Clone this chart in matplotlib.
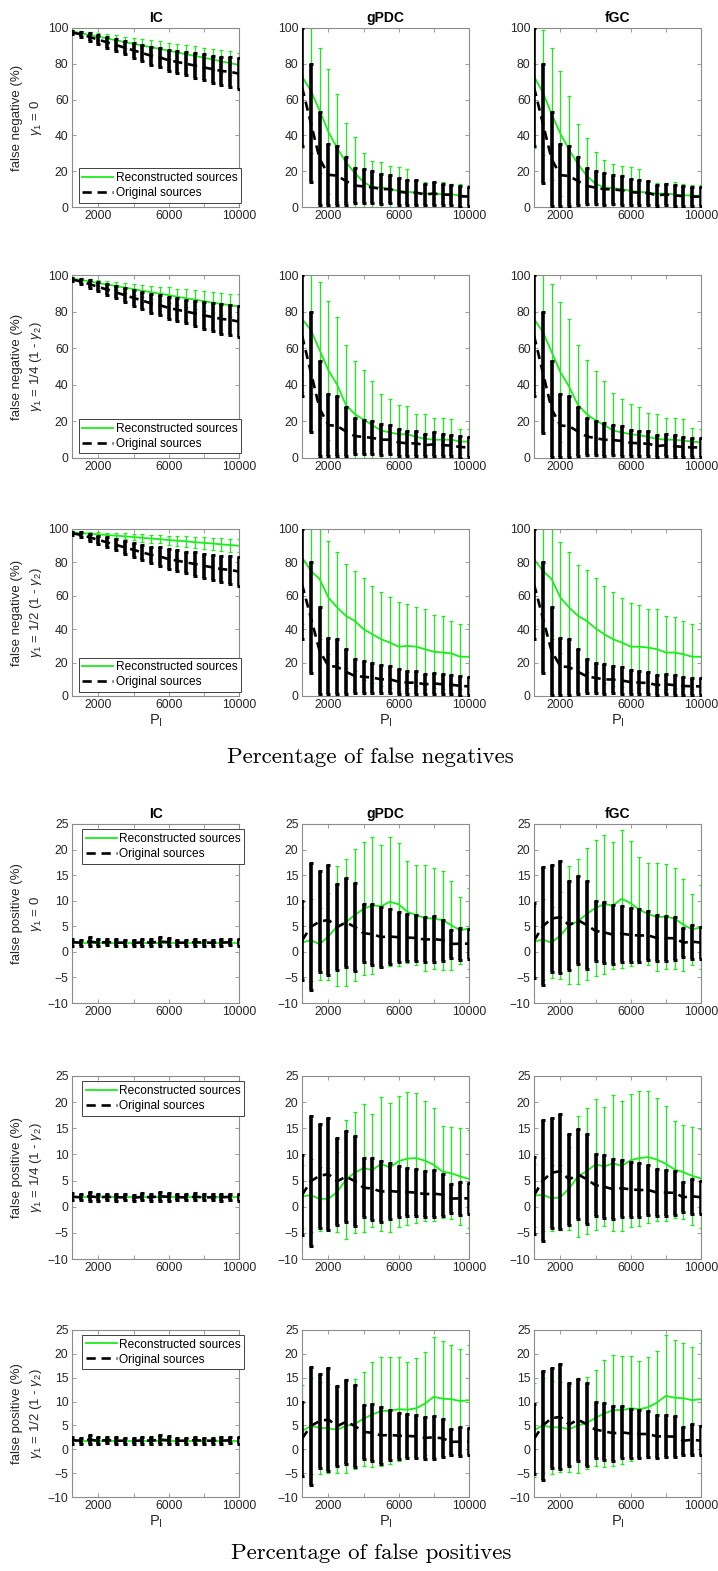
import matplotlib
matplotlib.use("Agg")
import matplotlib.pyplot as plt

plt.rcParams['font.family'] = ['Liberation Sans', 'DejaVu Sans']
plt.rcParams['mathtext.fontset'] = 'custom'
plt.rcParams['mathtext.rm'] = 'Liberation Sans'
plt.rcParams['mathtext.it'] = 'Liberation Sans:italic'

# number of points P_I
p_points = [500, 1000, 1500, 2000, 2500, 3000, 3500, 4000, 4500, 5000,
            5500, 6000, 6500, 7000, 7500, 8000, 8500, 9000, 9500, 10000]

methods = ['IC', 'gPDC', 'fGC']
gamma_labels = [r'$\gamma_1$ = 0',
                r'$\gamma_1$ = 1/4 (1 - $\gamma_2$)',
                r'$\gamma_1$ = 1/2 (1 - $\gamma_2$)']

# ---------------- false negatives ----------------
# original sources (do not depend on gamma)
fn_ic_orig_mean = [97.5, 96.5, 95, 93.5, 92, 90.5, 89, 87.5, 86, 84.5, 83.5, 82, 81, 80, 79, 78, 77, 76, 75.5, 74.5]
fn_ic_orig_std = [1, 1.5, 2, 2.5, 3, 3.3, 3.8, 4.2, 4.6, 5, 5.5, 5.8, 6.2, 6.5, 7, 7.3, 7.6, 8, 8.3, 8.6]
fn_gpdc_orig_mean = [67, 47, 27, 18, 17.5, 14.5, 12, 11.5, 11, 10, 10, 8.5, 8, 8, 7, 7.5, 7, 6.8, 6, 5.8]
fn_gpdc_orig_std = [33, 33, 26, 17, 16.5, 13.5, 10, 9.5, 9, 8.5, 8, 7.5, 7, 7, 6, 6.5, 6, 5.7, 6, 5.5]
fn_fgc_orig_mean = [67, 46.8, 26.8, 17.8, 17.3, 14.5, 11.8, 10.8, 10, 9.8, 9.3, 8.3, 8, 7.8, 6.5, 7, 6.5, 6, 5.8, 5.8]
fn_fgc_orig_std = [33, 33.2, 26.2, 17.2, 16.7, 13.5, 10.2, 9.2, 9, 8.2, 8.2, 7.2, 7, 6.7, 6, 6, 6, 5.5, 5.2, 5.2]

# reconstructed sources, gamma1 = 0
fn_ic_rec1_mean = [98, 97.2, 96.1, 95.2, 94.1, 93.2, 92.1, 91.2, 90.2, 89.3, 88.3, 87.3, 86.4, 85.3, 84.4, 83.4, 82.5, 81.3, 80.4, 79.3]
fn_ic_rec1_std = [0.8, 1.2, 1.6, 2, 2.4, 2.7, 3, 3.3, 3.6, 3.9, 4.2, 4.5, 4.8, 5.1, 5.4, 5.7, 6, 6.2, 6.5, 6.8]
fn_gpdc_rec1_mean = [73, 65, 54, 42, 33, 25, 19, 14, 11, 11, 10, 9, 8.5, 8, 7.5, 7.5, 7, 7, 6.5, 6]
fn_gpdc_rec1_std = [40, 35, 35, 35, 30, 22, 20, 16, 14.5, 14, 13, 13.5, 12.5, 7, 6.5, 6.5, 7, 6, 6.5, 6.5]
fn_fgc_rec1_mean = [73, 64, 52, 41, 32, 24, 17.5, 13, 11, 10.5, 10, 9, 8.5, 8, 7.5, 7.5, 7, 6.5, 6.5, 6]
fn_fgc_rec1_std = [40, 35, 37, 35, 30, 22.5, 21, 18, 15, 13.5, 13, 13.5, 12.5, 6.5, 6, 6, 7, 6.5, 6, 6.5]

# reconstructed sources, gamma1 = 1/4 (1 - gamma2)
fn_ic_rec2_mean = [98, 97.3, 96.5, 95.6, 94.8, 94, 93.1, 92.3, 91.4, 90.6, 89.8, 89, 88.1, 87.3, 86.5, 85.7, 84.9, 84.2, 83.5, 82.8]
fn_ic_rec2_std = [0.8, 1.1, 1.5, 1.8, 2.1, 2.4, 2.7, 3, 3.3, 3.6, 3.9, 4.2, 4.5, 4.8, 5.1, 5.4, 5.7, 6, 6.3, 6.6]
fn_gpdc_rec2_mean = [76, 70, 59, 48, 40, 29, 24, 21, 18, 15, 14, 13, 13, 11.5, 10.5, 10, 10, 10, 9, 9]
fn_gpdc_rec2_std = [40, 35, 37, 38, 37, 33, 29, 27, 24, 20, 18, 16, 15.5, 12.5, 13.5, 12, 12, 11.5, 7, 7]
fn_fgc_rec2_mean = [76, 69, 58, 47, 39, 29, 24, 20.5, 18, 15, 14, 13, 12.5, 11.5, 10.5, 10, 10, 9.5, 9, 8.5]
fn_fgc_rec2_std = [40, 35, 37, 38, 37, 33, 29.5, 27, 24, 20.5, 18, 16.5, 15.5, 13, 13.5, 12, 12, 12, 7.5, 7.5]

# reconstructed sources, gamma1 = 1/2 (1 - gamma2)
fn_ic_rec3_mean = [98, 97.6, 97.2, 96.8, 96.4, 96, 95.6, 95.2, 94.7, 94.3, 93.9, 93.4, 93, 92.6, 92.1, 91.7, 91.3, 90.8, 90.4, 90]
fn_ic_rec3_std = [0.6, 0.8, 1, 1.2, 1.4, 1.6, 1.8, 2, 2.2, 2.4, 2.5, 2.7, 2.9, 3.1, 3.2, 3.4, 3.6, 3.8, 3.9, 4]
fn_gpdc_rec3_mean = [83, 75, 70, 59, 53, 48, 45, 40, 37, 34, 32, 29.5, 30, 29.5, 28, 26.5, 26, 25.5, 23.5, 23.5]
fn_gpdc_rec3_std = [40, 38, 36, 34, 33, 31, 30, 30.5, 29, 28, 27, 26.5, 25, 23.5, 24, 22, 22, 19.5, 19.5, 19.5]
fn_fgc_rec3_mean = [82, 75, 70, 59, 53, 48, 45, 40.5, 37, 34, 32, 29.5, 29.5, 29, 28, 26, 26, 25, 23.5, 23.5]
fn_fgc_rec3_std = [40, 38, 36, 33, 33, 30.5, 30.5, 30, 29, 28, 26.5, 26, 25, 23, 24, 22, 21.5, 20, 19.5, 20]

# ---------------- false positives ----------------
fp_ic_orig_mean = [1.9, 1.8, 2.0, 1.8, 1.9, 1.8, 1.8, 1.7, 1.9, 1.8, 2.0, 1.9, 1.8, 1.8, 1.9, 1.8, 1.8, 1.8, 1.9, 1.8]
fp_ic_orig_std = [0.7, 0.6, 0.9, 0.7, 0.6, 0.7, 0.6, 0.6, 0.7, 0.7, 0.9, 0.8, 0.6, 0.6, 0.7, 0.6, 0.6, 0.7, 0.6, 0.7]
fp_gpdc_orig_mean = [2.2, 4.9, 5.9, 6.25, 4.85, 5.75, 4.9, 3.65, 3.45, 2.9, 3.0, 2.85, 2.8, 2.7, 2.4, 2.5, 2.3, 1.55, 1.6, 1.6]
fp_gpdc_orig_std = [7.7, 12.4, 9.9, 10.75, 8.35, 8.75, 8.6, 5.65, 5.95, 5.9, 5.3, 4.85, 4.6, 4.5, 4.4, 4.5, 4.0, 2.75, 3.1, 2.9]
fp_fgc_orig_mean = [2.15, 5, 6.5, 6.8, 5.2, 6.2, 5.25, 4.1, 3.8, 3.35, 3.55, 3.3, 3.2, 3.2, 2.7, 2.7, 2.65, 1.8, 2, 1.8]
fp_fgc_orig_std = [7.35, 11.5, 10.5, 11, 8.7, 8.6, 8.65, 5.9, 6, 5.75, 5.45, 5.2, 5.1, 4.8, 4.5, 4.4, 4.25, 2.9, 3.3, 3.1]

fp_ic_rec1_mean = [1.8, 1.8, 1.8, 1.8, 1.8, 1.8, 1.8, 1.8, 1.8, 1.8, 1.8, 1.8, 1.8, 1.8, 1.8, 1.8, 1.8, 1.8, 1.8, 1.8]
fp_ic_rec1_std = [0.5, 0.5, 0.5, 0.5, 0.5, 0.5, 0.5, 0.5, 0.5, 0.5, 0.5, 0.5, 0.5, 0.5, 0.5, 0.5, 0.5, 0.5, 0.5, 0.5]
fp_gpdc_rec1_mean = [1.8, 2.3, 1.5, 3.0, 5.0, 5.8, 7.2, 8.4, 9.1, 8.9, 9.8, 9.3, 7.8, 7.2, 6.6, 6.5, 6.2, 5.2, 4.2, 4.6]
fp_gpdc_rec1_std = [7, 8, 7, 8.5, 11.7, 12.4, 12.9, 13, 13.4, 11.9, 12.6, 12, 10, 9.8, 10.3, 9.9, 9.7, 8.7, 6.6, 7.9]
fp_fgc_rec1_mean = [2, 2.4, 1.8, 3.2, 5.2, 6, 7.4, 8.6, 9.3, 9.1, 10.4, 9.5, 8.2, 7.4, 6.8, 6.9, 6.5, 5.3, 4.4, 4.8]
fp_fgc_rec1_std = [7, 8, 7, 8.5, 11.5, 12.2, 13, 13.3, 13.6, 12.4, 13.5, 12.2, 10.3, 10, 10.6, 10.2, 9.8, 9, 7, 8.2]

fp_ic_rec2_mean = [1.8, 1.8, 1.8, 1.8, 1.8, 1.8, 1.8, 1.8, 1.8, 1.8, 1.8, 1.8, 1.8, 1.8, 1.8, 1.8, 1.8, 1.8, 1.8, 1.8]
fp_ic_rec2_std = [0.5, 0.5, 0.5, 0.5, 0.5, 0.5, 0.5, 0.5, 0.5, 0.5, 0.5, 0.5, 0.5, 0.5, 0.5, 0.5, 0.5, 0.5, 0.5, 0.5]
fp_gpdc_rec2_mean = [2, 2.2, 1.5, 1.5, 2.8, 5.2, 6.5, 7.4, 7, 8.2, 7.5, 8.7, 9.2, 9.3, 8.8, 8, 6.7, 6.4, 5.8, 5.3]
fp_gpdc_rec2_std = [6, 7, 6.1, 6, 7.6, 11.3, 11.6, 12.2, 10.8, 12.8, 12.4, 12.5, 12.7, 12.5, 11.5, 10.8, 8.8, 8.8, 9.3, 9.3]
fp_fgc_rec2_mean = [2.1, 2.3, 1.6, 1.8, 3.5, 5.8, 6.8, 8.1, 7.7, 8.3, 7.8, 8.9, 9.3, 9.5, 9, 8.2, 7.1, 6.6, 5.9, 5.4]
fp_fgc_rec2_std = [6, 7, 6.3, 6.2, 8, 11.6, 12, 12.5, 11.3, 13, 12.4, 12.7, 12.9, 12.7, 11.8, 11, 9.2, 9, 9.4, 9.5]

fp_ic_rec3_mean = [1.8, 1.8, 1.8, 1.8, 1.8, 1.8, 1.8, 1.8, 1.8, 1.8, 1.8, 1.8, 1.8, 1.8, 1.8, 1.8, 1.8, 1.8, 1.8, 1.8]
fp_ic_rec3_std = [0.5, 0.5, 0.5, 0.5, 0.5, 0.5, 0.5, 0.5, 0.5, 0.5, 0.5, 0.5, 0.5, 0.5, 0.5, 0.5, 0.5, 0.5, 0.5, 0.5]
fp_gpdc_rec3_mean = [3.8, 4.9, 4.5, 4.4, 4.1, 4.9, 5.3, 6.4, 7.3, 8.0, 8.1, 8.4, 8.3, 8.6, 9.6, 11.0, 10.6, 10.5, 10.1, 10.3]
fp_gpdc_rec3_std = [9.6, 10, 9.6, 9.3, 9, 9.8, 9.5, 9.9, 11, 11.4, 11.2, 10.9, 10, 10.5, 10.7, 12.6, 12, 11.4, 11, 11.6]
fp_fgc_rec3_mean = [4, 5, 4.6, 4.6, 4.2, 5, 5.5, 6.6, 7.5, 8.2, 8.2, 8.6, 8.4, 8.8, 9.8, 11.2, 10.8, 10.7, 10.3, 10.5]
fp_fgc_rec3_std = [9.8, 10, 9.7, 9.4, 9, 10, 9.7, 10, 11.2, 11.6, 11.3, 11, 10, 10.6, 10.8, 12.8, 12.2, 11.6, 11.1, 11.8]

fn_orig = [(fn_ic_orig_mean, fn_ic_orig_std), (fn_gpdc_orig_mean, fn_gpdc_orig_std), (fn_fgc_orig_mean, fn_fgc_orig_std)]
fp_orig = [(fp_ic_orig_mean, fp_ic_orig_std), (fp_gpdc_orig_mean, fp_gpdc_orig_std), (fp_fgc_orig_mean, fp_fgc_orig_std)]
fn_rec = [
    [(fn_ic_rec1_mean, fn_ic_rec1_std), (fn_gpdc_rec1_mean, fn_gpdc_rec1_std), (fn_fgc_rec1_mean, fn_fgc_rec1_std)],
    [(fn_ic_rec2_mean, fn_ic_rec2_std), (fn_gpdc_rec2_mean, fn_gpdc_rec2_std), (fn_fgc_rec2_mean, fn_fgc_rec2_std)],
    [(fn_ic_rec3_mean, fn_ic_rec3_std), (fn_gpdc_rec3_mean, fn_gpdc_rec3_std), (fn_fgc_rec3_mean, fn_fgc_rec3_std)],
]
fp_rec = [
    [(fp_ic_rec1_mean, fp_ic_rec1_std), (fp_gpdc_rec1_mean, fp_gpdc_rec1_std), (fp_fgc_rec1_mean, fp_fgc_rec1_std)],
    [(fp_ic_rec2_mean, fp_ic_rec2_std), (fp_gpdc_rec2_mean, fp_gpdc_rec2_std), (fp_fgc_rec2_mean, fp_fgc_rec2_std)],
    [(fp_ic_rec3_mean, fp_ic_rec3_std), (fp_gpdc_rec3_mean, fp_gpdc_rec3_std), (fp_fgc_rec3_mean, fp_fgc_rec3_std)],
]

GREEN = '#1aee1a'
EDGE = '#8c8c8c'
TXT = '#262626'

W, H = 718, 1571
fig = plt.figure(figsize=(W / 100, H / 100), dpi=100)

col_left = [72, 302, 534]
col_width = 167
fn_rows = [(28, 207), (275, 458), (529, 696)]
fp_rows = [(824, 1003), (1076, 1259), (1330, 1497)]


def make_axes(px_left, top, bottom):
    return fig.add_axes([px_left / W, 1 - bottom / H, col_width / W, (bottom - top) / H])


def draw_panel(ax, rec, orig):
    eg = ax.errorbar(p_points, rec[0], yerr=rec[1], color=GREEN, lw=1.3,
                     elinewidth=0.9, capsize=1.6, capthick=0.9, zorder=2)
    eb = ax.errorbar(p_points, orig[0], yerr=orig[1], color='black', lw=1.9,
                     ls='--', dashes=(3.5, 2.2), elinewidth=2.6, capsize=1.6,
                     capthick=2.2, zorder=3)
    return eg.lines[0], eb.lines[0]


def style_axes(ax, yticks, ylim):
    ax.set_xlim(500, 10000)
    ax.set_ylim(*ylim)
    ax.set_xticks([2000, 4000, 6000, 8000, 10000])
    ax.set_xticklabels(['2000', '', '6000', '', '10000'])
    ax.set_yticks(yticks)
    ax.tick_params(direction='in', length=3, width=0.6, color=EDGE, labelcolor=TXT,
                   labelsize=8.7, top=True, right=True, pad=2.5)
    for s in ax.spines.values():
        s.set_color(EDGE)
        s.set_linewidth(0.8)


for block, rows, recs, origs, ylim, yticks, what, leg_loc, leg_anchor in [
        ('fn', fn_rows, fn_rec, fn_orig, (0, 100), [0, 20, 40, 60, 80, 100],
         'false negative (%)', 'lower left', (0.04, 0.025)),
        ('fp', fp_rows, fp_rec, fp_orig, (-10, 25), [-10, -5, 0, 5, 10, 15, 20, 25],
         'false positive (%)', 'upper left', (0.06, 0.97))]:
    for r, (top, bottom) in enumerate(rows):
        for c in range(3):
            ax = make_axes(col_left[c], top, bottom)
            hg, hb = draw_panel(ax, recs[r][c], origs[c])
            style_axes(ax, yticks, ylim)
            if r == 0:
                ax.set_title(methods[c], fontsize=10, fontweight='bold', pad=4, color='black')
            if r == 2:
                ax.set_xlabel(r'P$_\mathregular{I}$', fontsize=10.5, color=TXT, labelpad=1)
            if c == 0:
                ax.set_ylabel(what + '\n' + gamma_labels[r], fontsize=9.5, color=TXT,
                              linespacing=1.45, labelpad=3)
                leg = ax.legend([hg, hb], ['Reconstructed sources', 'Original sources'],
                                loc=leg_loc, bbox_to_anchor=leg_anchor, fontsize=8.6,
                                fancybox=False, framealpha=1, edgecolor='#404040',
                                handlelength=2.6, handletextpad=0.2, borderpad=0.3,
                                labelspacing=0.25, borderaxespad=0)
                leg.get_frame().set_linewidth(0.7)

fig.text(370 / W, 1 - 757 / H, 'Percentage of false negatives', family='cmr10',
         fontsize=16.5, ha='center', va='center')
fig.text(371 / W, 1 - 1553 / H, 'Percentage of false positives', family='cmr10',
         fontsize=16.5, ha='center', va='center')

fig.savefig('out.png', dpi=100)
